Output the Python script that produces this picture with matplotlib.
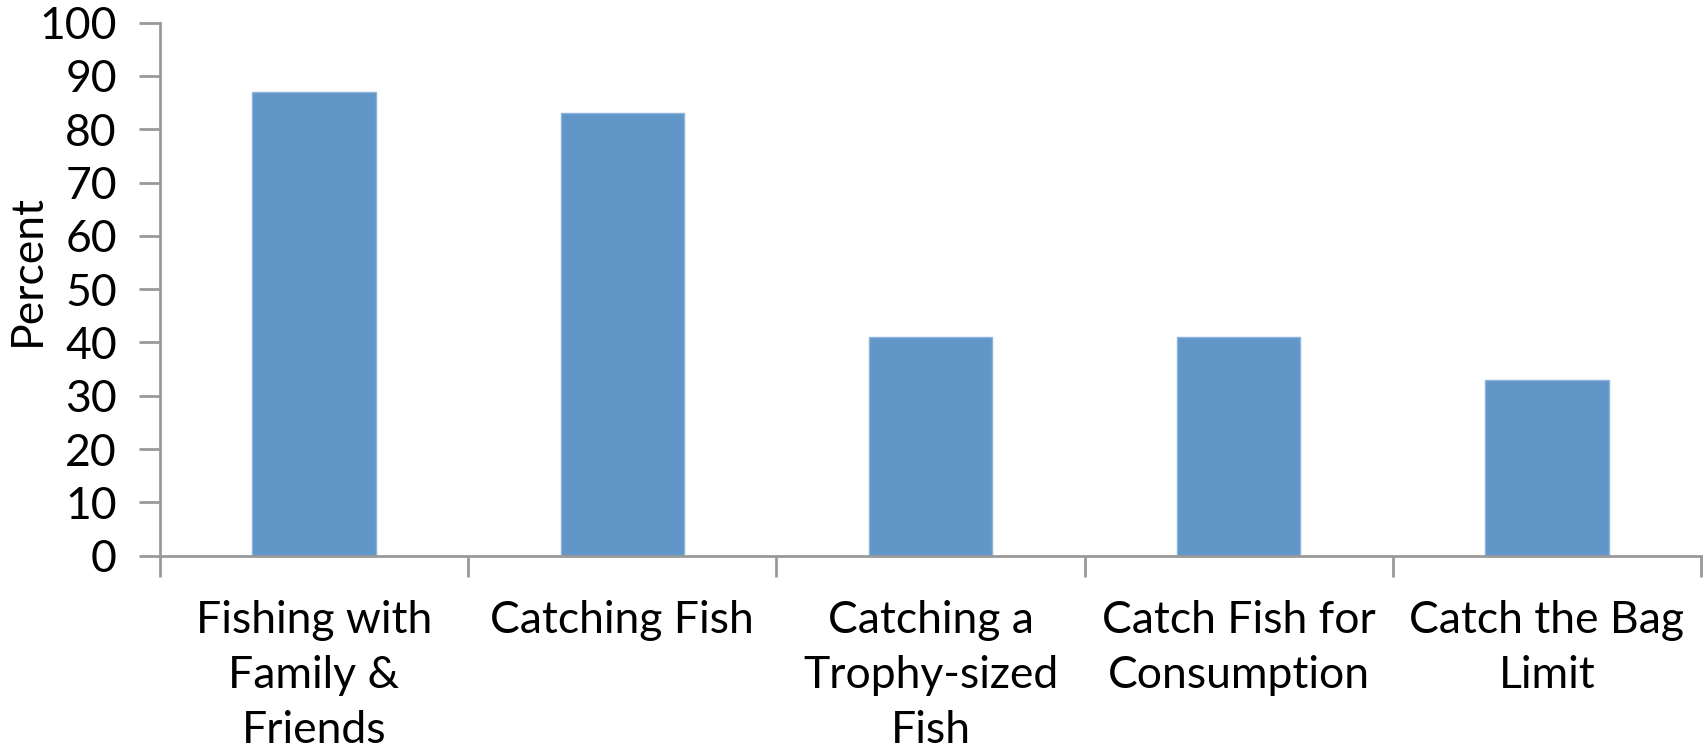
import matplotlib
matplotlib.use("Agg")
import matplotlib.pyplot as plt

categories = [
    "Fishing with\nFamily &\nFriends",
    "Catching Fish",
    "Catching a\nTrophy-sized\nFish",
    "Catch Fish for\nConsumption",
    "Catch the Bag\nLimit",
]
percent = [87, 83, 41, 41, 33]
yticks = list(range(0, 101, 10))

plt.rcParams["font.family"] = ["Lato", "DejaVu Sans"]

fig = plt.figure(figsize=(17.04, 7.52), dpi=100)
ax = fig.add_axes([0.0939, 0.261, 0.9044, 0.709])

axis_color = "#999999"
x = list(range(len(categories)))
ax.bar(x, percent, width=0.4, color="#6096C8", edgecolor="#8DB3DB", linewidth=1.0, zorder=2)

ax.set_xlim(-0.5, len(categories) - 0.5)
ax.set_ylim(0, 100)
ax.set_yticks(yticks)
ax.set_yticklabels([str(v) for v in yticks], fontsize=32)

# category boundaries carry the ticks; labels sit at the bar centres
ax.set_xticks([i - 0.5 for i in range(len(categories) + 1)])
ax.set_xticklabels([])
ax.set_xticks(x, minor=True)
ax.set_xticklabels(categories, minor=True, fontsize=32, linespacing=1.42)
ax.tick_params(axis="x", which="minor", length=0, pad=32)
ax.tick_params(axis="x", which="major", length=15, width=2, color=axis_color, direction="out")
ax.tick_params(axis="y", length=15, width=2, color=axis_color, direction="out", pad=16)

for side in ("top", "right"):
    ax.spines[side].set_visible(False)
for side in ("left", "bottom"):
    ax.spines[side].set_color(axis_color)
    ax.spines[side].set_linewidth(2)

# y-axis title placed in figure coordinates so it stays inside the canvas
fig.text(27 / 1704, 1 - 270 / 752, "Percent", rotation=90, fontsize=32,
         ha="center", va="center")

fig.savefig("out.png", dpi=100)
